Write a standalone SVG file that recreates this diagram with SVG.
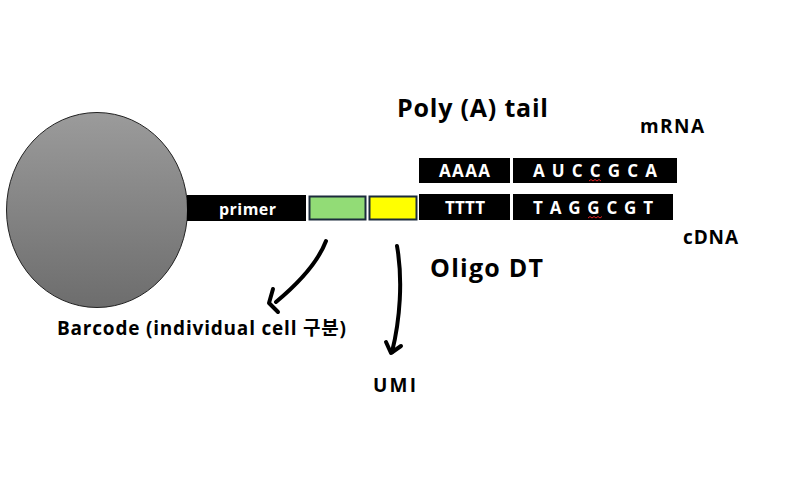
<svg xmlns="http://www.w3.org/2000/svg" width="796" height="492" viewBox="0 0 796 492">
<defs>
<linearGradient id="bead" x1="0" y1="0" x2="0" y2="1">
<stop offset="0" stop-color="#9b9b9b"/>
<stop offset="1" stop-color="#6d6d6d"/>
</linearGradient>
</defs>
<style>
.t{font-family:"Open Sans","Noto Sans CJK KR",sans-serif;font-weight:bold;fill:#000}
.w{font-family:"Open Sans","Noto Sans CJK KR",sans-serif;font-weight:bold;fill:#fff}
.blk{fill:#000}
.hand{fill:none;stroke:#000;stroke-width:4;stroke-linecap:round;stroke-linejoin:round}
.sq{fill:none;stroke:#e02020;stroke-width:1}
</style>
<rect width="796" height="492" fill="#fff"/>
<g id="bead-node">
<ellipse cx="97" cy="210" rx="90.5" ry="97.5" fill="url(#bead)" stroke="#222" stroke-width="1"/>
</g>
<g id="primer">
<rect class="blk" x="187" y="195" width="119" height="26"/>
<text class="w" x="219" y="215" font-size="16" textLength="57">primer</text>
</g>
<g id="barcode-box">
<rect x="309.5" y="196.5" width="56" height="23" fill="#92dc76" stroke="#1b2b3b" stroke-width="2"/>
</g>
<g id="umi-box">
<rect x="369.5" y="196.5" width="47" height="23" fill="#ffff00" stroke="#1b2b3b" stroke-width="2"/>
</g>
<g id="tttt">
<rect class="blk" x="419" y="194" width="91" height="26"/>
<text class="w" x="445" y="214" font-size="17" textLength="40">TTTT</text>
</g>
<g id="cdna-seq">
<rect class="blk" x="513" y="194" width="160" height="26"/>
<text class="w" x="533" y="214" font-size="17" textLength="120">TAGGCGT</text>
<path class="sq" d="M588,218 l2,-1.5 l2,1.5 l2,-1.5 l2,1.5 l2,-1.5 l2,1.5 l2,-1.5"/>
</g>
<g id="aaaa">
<rect class="blk" x="419" y="158" width="91" height="25"/>
<text class="w" x="439" y="177" font-size="17" textLength="51">AAAA</text>
</g>
<g id="mrna-seq">
<rect class="blk" x="513" y="158" width="164" height="25"/>
<text class="w" x="533" y="177" font-size="17" textLength="124">AUCCGCA</text>
<path class="sq" d="M589,181 l2,-1.5 l2,1.5 l2,-1.5 l2,1.5 l2,-1.5 l2,1.5"/>
</g>
<g id="labels">
<text class="t" x="397" y="117" font-size="25" textLength="151">Poly (A) tail</text>
<text class="t" x="640" y="133" font-size="19" textLength="64">mRNA</text>
<text class="t" x="683" y="244" font-size="19" textLength="55">cDNA</text>
<text class="t" x="430" y="277" font-size="25" textLength="113">Oligo DT</text>
<text class="t" x="57" y="335" font-size="19" textLength="289">Barcode (individual cell 구분)</text>
<text class="t" x="373" y="392" font-size="19" textLength="43">UMI</text>
</g>
<g id="connectors">
<path class="hand" d="M326,241 C318,262 300,282 276,302"/>
<path class="hand" d="M273,289 L269,303 L278,312"/>
<path class="hand" d="M397,246 C403,280 400,320 392,352"/>
<path class="hand" d="M386,342 L391,353 L401,346"/>
</g>
</svg>
